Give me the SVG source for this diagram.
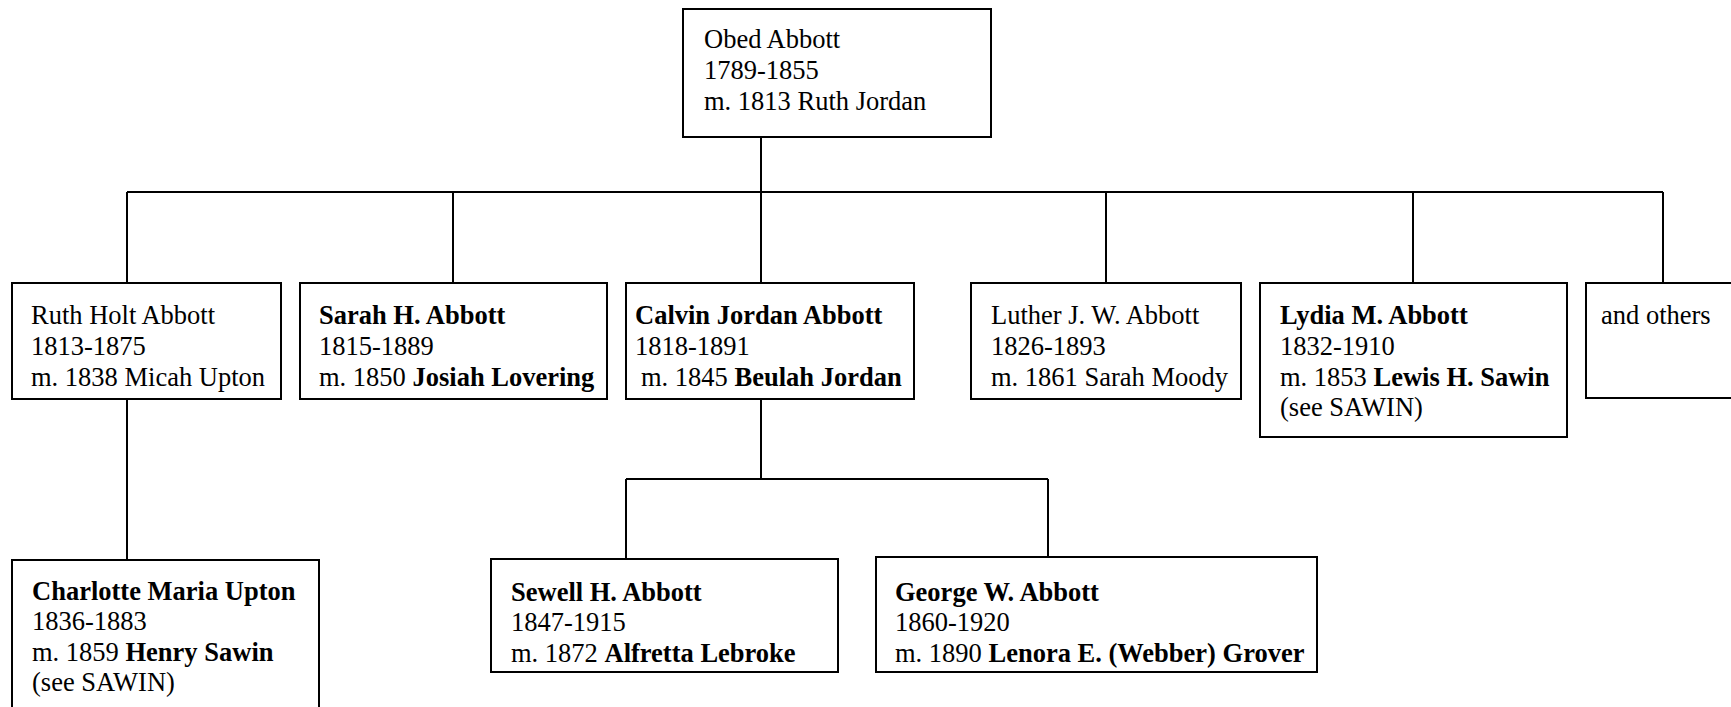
<svg xmlns="http://www.w3.org/2000/svg" width="1731" height="707" viewBox="0 0 1731 707">
<style>
.box{fill:#fff;stroke:#000;stroke-width:2}
.ln{stroke:#000;stroke-width:2;fill:none}
text{font-family:"Liberation Serif","Times New Roman",serif;font-size:26.5px;fill:#000}
.b{font-weight:bold}
</style>
<rect width="1731" height="707" fill="#fff"/>
<g id="connectors">
<path class="ln" d="M761 137V192M127 192H1663M127 192V283M453 192V283M761 192V283M1106 192V283M1413 192V283M1663 192V283"/>
<path class="ln" d="M127 399V560"/>
<path class="ln" d="M761 399V479M626 479H1048M626 479V559M1048 479V557"/>
</g>
<g id="obed">
<rect class="box" x="683" y="9" width="308" height="128"/>
<text x="704" y="48">Obed Abbott</text>
<text x="704" y="79">1789-1855</text>
<text x="704" y="110">m. 1813 Ruth Jordan</text>
</g>
<g id="ruth">
<rect class="box" x="12" y="283" width="269" height="116"/>
<text x="31" y="324">Ruth Holt Abbott</text>
<text x="31" y="355">1813-1875</text>
<text x="31" y="386">m. 1838 Micah Upton</text>
</g>
<g id="sarah">
<rect class="box" x="300" y="283" width="307" height="116"/>
<text x="319" y="324" class="b">Sarah H. Abbott</text>
<text x="319" y="355">1815-1889</text>
<text x="319" y="386">m. 1850 <tspan class="b">Josiah Lovering</tspan></text>
</g>
<g id="calvin">
<rect class="box" x="626" y="283" width="288" height="116"/>
<text x="635" y="324" class="b">Calvin Jordan Abbott</text>
<text x="635" y="355">1818-1891</text>
<text x="641" y="386">m. 1845 <tspan class="b">Beulah Jordan</tspan></text>
</g>
<g id="luther">
<rect class="box" x="971" y="283" width="270" height="116"/>
<text x="991" y="324">Luther J. W. Abbott</text>
<text x="991" y="355">1826-1893</text>
<text x="991" y="386">m. 1861 Sarah Moody</text>
</g>
<g id="lydia">
<rect class="box" x="1260" y="283" width="307" height="154"/>
<text x="1280" y="324" class="b">Lydia M. Abbott</text>
<text x="1280" y="355">1832-1910</text>
<text x="1280" y="386">m. 1853 <tspan class="b">Lewis H. Sawin</tspan></text>
<text x="1280" y="416">(see SAWIN)</text>
</g>
<g id="others">
<rect class="box" x="1586" y="283" width="200" height="115"/>
<text x="1601" y="324">and others</text>
</g>
<g id="charlotte">
<rect class="box" x="12" y="560" width="307" height="200"/>
<text x="32" y="600" class="b">Charlotte Maria Upton</text>
<text x="32" y="630">1836-1883</text>
<text x="32" y="661">m. 1859 <tspan class="b">Henry Sawin</tspan></text>
<text x="32" y="691">(see SAWIN)</text>
</g>
<g id="sewell">
<rect class="box" x="491" y="559" width="347" height="113"/>
<text x="511" y="601" class="b">Sewell H. Abbott</text>
<text x="511" y="631">1847-1915</text>
<text x="511" y="662">m. 1872 <tspan class="b">Alfretta Lebroke</tspan></text>
</g>
<g id="george">
<rect class="box" x="876" y="557" width="441" height="115"/>
<text x="895" y="601" class="b">George W. Abbott</text>
<text x="895" y="631">1860-1920</text>
<text x="895" y="662">m. 1890 <tspan class="b">Lenora E. (Webber) Grover</tspan></text>
</g>
</svg>
